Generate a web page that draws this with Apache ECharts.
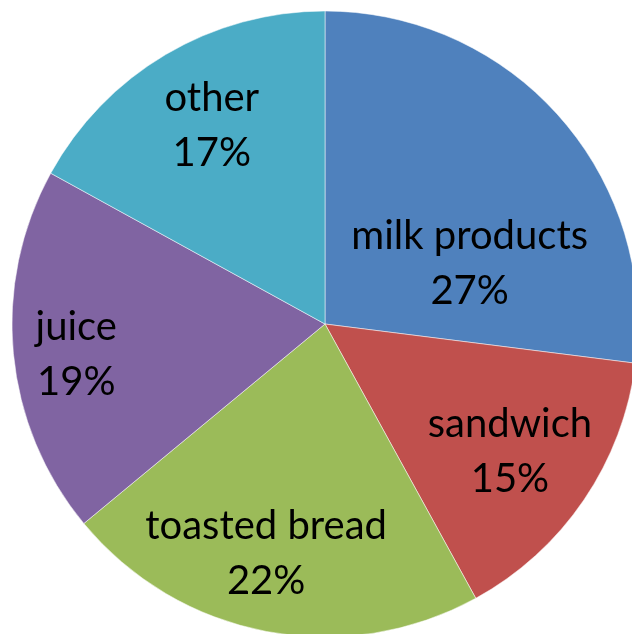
<!DOCTYPE html>
<html>
<head>
<meta charset="utf-8">
<script src="https://cdn.jsdelivr.net/npm/echarts@6/dist/echarts.min.js"></script>
<style>
  html, body { margin: 0; padding: 0; background: #ffffff; }
  #chart { width: 632px; height: 634px; }
</style>
</head>
<body>
<div id="chart"></div>
<script>
// Breakfast items share, in percent
const categories = ['milk products', 'sandwich', 'toasted bread', 'juice', 'other'];
const shares = [27, 15, 22, 19, 17];
const colors = ['#4F81BD', '#C0504D', '#9BBB59', '#8064A2', '#4BACC6'];

// Label nudges from the default inside position (px)
const labelShift = [[25, 45], [53, 38], [-29, 73], [-90, 16], [-32, -61]];

const chart = echarts.init(document.getElementById('chart'), null, { renderer: 'canvas' });

chart.setOption({
  animation: false,
  backgroundColor: '#ffffff',
  series: [{
    type: 'pie',
    center: [325, 324],
    radius: [0, 313],
    startAngle: 90,
    clockwise: true,
    avoidLabelOverlap: false,
    data: categories.map((name, i) => ({
      name,
      value: shares[i],
      itemStyle: { color: colors[i] }
    })),
    itemStyle: { borderColor: 'rgba(255,255,255,0.5)', borderWidth: 1 },
    label: {
      show: true,
      position: 'inside',
      formatter: p => p.name + '\n' + p.value + '%',
      fontFamily: 'Lato',
      fontSize: 40,
      lineHeight: 55,
      color: '#000000',
      align: 'center'
    },
    labelLine: { show: false },
    labelLayout: params => ({
      dx: labelShift[params.dataIndex][0],
      dy: labelShift[params.dataIndex][1]
    }),
    emphasis: { disabled: true }
  }]
});
</script>
</body>
</html>
